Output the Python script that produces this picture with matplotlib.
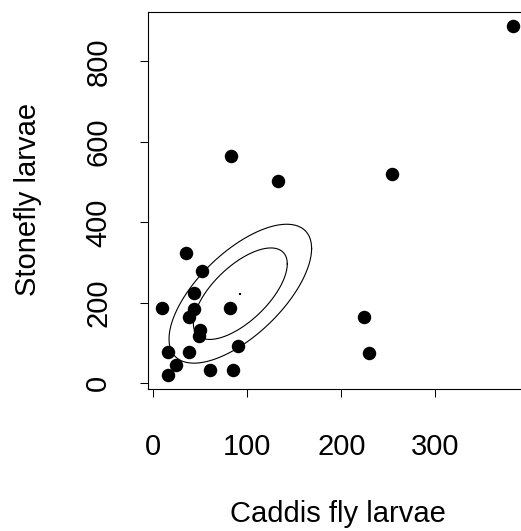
import numpy as np
import matplotlib.pyplot as plt

plt.rcParams['font.family'] = ['Liberation Sans', 'DejaVu Sans']

# invertebrate counts per sample
caddis = [83, 133, 254, 35, 52, 43, 9, 43, 82, 38, 50, 49, 224, 230, 90, 16, 38, 24, 16, 60, 85, 383]
stonefly = [564, 504, 521, 324, 280, 225, 188, 186, 188, 165, 132, 117, 165, 76, 92, 78, 78, 45, 20, 32, 34, 889]
xticks = [0, 100, 200, 300]
yticks = [0, 200, 400, 600, 800]
levels = [0.95, 0.999]

x = np.array(caddis, dtype=float)
y = np.array(stonefly, dtype=float)

W, H = 521, 531
fig = plt.figure(figsize=(W / 100, H / 100), dpi=100)
ax = fig.add_axes([147.7 / W, (H - 389.3) / H, 379.6 / W, 377.6 / H])

ax.plot(x, y, 'o', color='black', markersize=9.7, markeredgewidth=0)

# confidence regions for the mean
m = np.array([x.mean(), y.mean()])
S = np.cov(np.vstack([x, y])) / len(x)
L = np.linalg.cholesky(S)
t = np.linspace(0, 2 * np.pi, 300)
circ = np.vstack([np.cos(t), np.sin(t)])
for p in levels:
    r = np.sqrt(-2 * np.log(1 - p))
    e = m[:, None] + r * L @ circ
    ax.plot(e[0], e[1], color='black', lw=0.8)
ax.plot(m[0], m[1], 's', color='black', markersize=1.6, markeredgewidth=0)

# R-style 4% padding
dx = 0.04 * (x.max() - x.min())
dy = 0.04 * (y.max() - y.min())
ax.set_xlim(x.min() - dx, x.max() + dx)
ax.set_ylim(y.min() - dy, y.max() + dy)

ax.set_xticks(xticks)
ax.set_yticks(yticks)
ax.tick_params(axis='both', direction='out', length=5.5, width=0.75, labelsize=21)
ax.tick_params(axis='x', pad=26)
ax.tick_params(axis='y', pad=20, labelrotation=90)
for lab in ax.get_yticklabels():
    lab.set_va('center')
for s in ax.spines.values():
    s.set_linewidth(0.8)

fig.text(337.5 / W, 1 - 521.7 / H, 'Caddis fly larvae', ha='center', va='baseline', fontsize=21)
fig.text(14 / W, 1 - 199 / H, 'Stonefly larvae', ha='left', va='center', rotation=90, fontsize=21)

fig.savefig('out.png', dpi=100)
